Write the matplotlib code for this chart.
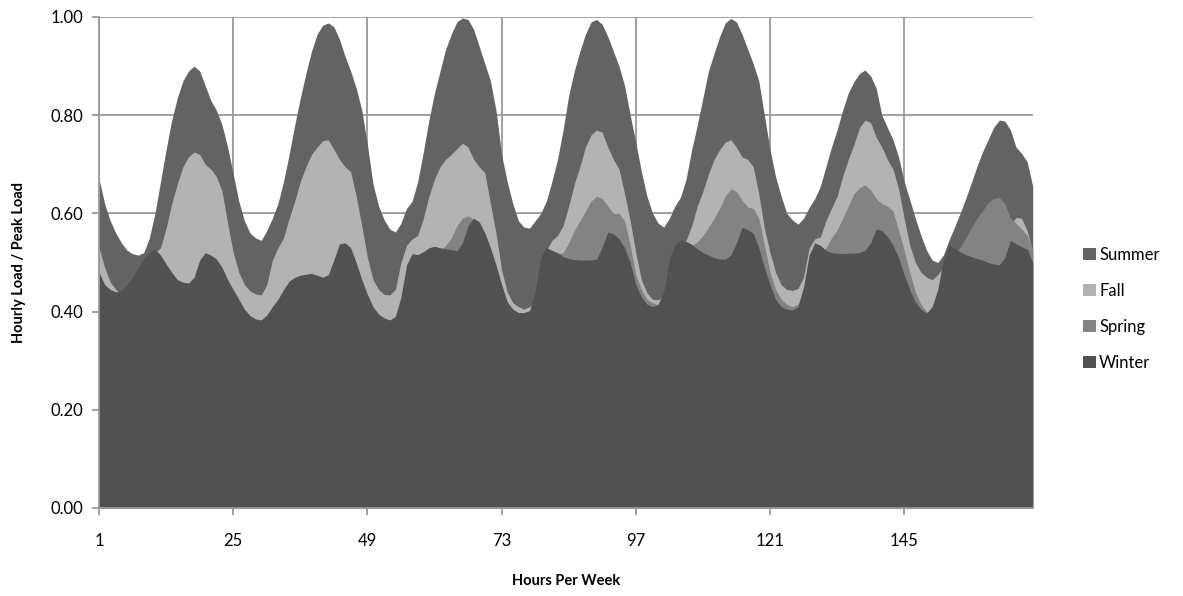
import numpy as np
import matplotlib
matplotlib.use("Agg")
import matplotlib.pyplot as plt
from matplotlib.patches import Patch

plt.rcParams['font.family'] = ['Lato', 'DejaVu Sans']

hours = np.arange(1, 169)

summer = [
    0.67, 0.62, 0.585, 0.56, 0.54, 0.525, 0.518, 0.515, 0.52, 0.55, 0.60, 0.665,
    0.73, 0.79, 0.835, 0.87, 0.89, 0.90, 0.89, 0.86, 0.83, 0.81, 0.78, 0.735,
    0.68, 0.625, 0.585, 0.56, 0.55, 0.545, 0.565, 0.59, 0.62, 0.665, 0.72, 0.78,
    0.835, 0.885, 0.93, 0.965, 0.983, 0.988, 0.98, 0.955, 0.92, 0.89, 0.855, 0.81,
    0.74, 0.66, 0.615, 0.587, 0.568, 0.562, 0.58, 0.61, 0.625, 0.665, 0.725, 0.79,
    0.845, 0.89, 0.935, 0.965, 0.99, 0.998, 0.995, 0.975, 0.94, 0.905, 0.87, 0.81,
    0.72, 0.665, 0.62, 0.585, 0.572, 0.57, 0.585, 0.60, 0.625, 0.665, 0.71, 0.77,
    0.84, 0.89, 0.93, 0.965, 0.99, 0.995, 0.985, 0.96, 0.93, 0.90, 0.86, 0.80,
    0.745, 0.685, 0.635, 0.60, 0.58, 0.572, 0.59, 0.615, 0.633, 0.67, 0.73, 0.78,
    0.835, 0.89, 0.926, 0.96, 0.988, 0.997, 0.99, 0.965, 0.935, 0.905, 0.87, 0.80,
    0.73, 0.675, 0.635, 0.60, 0.587, 0.578, 0.59, 0.612, 0.63, 0.655, 0.695, 0.735,
    0.77, 0.81, 0.845, 0.868, 0.885, 0.892, 0.88, 0.855, 0.80, 0.775, 0.75, 0.715,
    0.665, 0.628, 0.59, 0.555, 0.525, 0.505, 0.50, 0.515, 0.545, 0.572, 0.60, 0.63,
    0.662, 0.695, 0.725, 0.75, 0.775, 0.79, 0.788, 0.77, 0.735, 0.722, 0.705, 0.655,
]

fall = [
    0.53, 0.49, 0.46, 0.445, 0.435, 0.44, 0.45, 0.47, 0.49, 0.505, 0.52, 0.53,
    0.57, 0.62, 0.66, 0.695, 0.715, 0.725, 0.72, 0.70, 0.69, 0.675, 0.645, 0.58,
    0.52, 0.48, 0.455, 0.442, 0.436, 0.434, 0.455, 0.505, 0.53, 0.55, 0.59, 0.625,
    0.665, 0.695, 0.72, 0.735, 0.748, 0.75, 0.73, 0.71, 0.695, 0.685, 0.635, 0.575,
    0.51, 0.465, 0.445, 0.435, 0.434, 0.445, 0.50, 0.535, 0.548, 0.555, 0.59, 0.635,
    0.67, 0.695, 0.71, 0.72, 0.732, 0.743, 0.735, 0.71, 0.695, 0.683, 0.62, 0.56,
    0.485, 0.44, 0.418, 0.41, 0.405, 0.41, 0.42, 0.50, 0.525, 0.545, 0.555, 0.575,
    0.615, 0.66, 0.695, 0.735, 0.76, 0.77, 0.765, 0.735, 0.71, 0.69, 0.64, 0.585,
    0.52, 0.465, 0.438, 0.425, 0.424, 0.43, 0.49, 0.53, 0.54, 0.545, 0.575, 0.615,
    0.645, 0.68, 0.71, 0.73, 0.745, 0.75, 0.735, 0.715, 0.71, 0.695, 0.64, 0.57,
    0.52, 0.48, 0.455, 0.445, 0.443, 0.447, 0.47, 0.53, 0.548, 0.552, 0.585, 0.61,
    0.635, 0.675, 0.71, 0.74, 0.775, 0.79, 0.785, 0.755, 0.735, 0.71, 0.69, 0.65,
    0.59, 0.535, 0.50, 0.48, 0.47, 0.465, 0.475, 0.49, 0.50, 0.51, 0.52, 0.54,
    0.565, 0.585, 0.60, 0.61, 0.615, 0.615, 0.60, 0.575, 0.592, 0.59, 0.565, 0.52,
]

spring = [
    0.47, 0.45, 0.44, 0.435, 0.435, 0.445, 0.46, 0.475, 0.49, 0.50, 0.505, 0.50,
    0.485, 0.47, 0.455, 0.45, 0.45, 0.46, 0.48, 0.49, 0.49, 0.485, 0.47, 0.45,
    0.43, 0.41, 0.395, 0.385, 0.378, 0.376, 0.385, 0.40, 0.415, 0.43, 0.445, 0.455,
    0.46, 0.462, 0.465, 0.462, 0.46, 0.462, 0.48, 0.51, 0.52, 0.51, 0.485, 0.455,
    0.425, 0.40, 0.388, 0.38, 0.376, 0.382, 0.42, 0.48, 0.50, 0.505, 0.51, 0.515,
    0.52, 0.522, 0.535, 0.55, 0.575, 0.59, 0.595, 0.588, 0.575, 0.56, 0.53, 0.49,
    0.45, 0.415, 0.40, 0.393, 0.392, 0.396, 0.43, 0.49, 0.515, 0.518, 0.518, 0.52,
    0.54, 0.565, 0.585, 0.605, 0.625, 0.635, 0.63, 0.615, 0.60, 0.60, 0.585, 0.535,
    0.475, 0.445, 0.425, 0.418, 0.414, 0.42, 0.48, 0.515, 0.525, 0.53, 0.535, 0.542,
    0.555, 0.572, 0.59, 0.61, 0.635, 0.65, 0.645, 0.627, 0.613, 0.61, 0.59, 0.535,
    0.48, 0.445, 0.425, 0.415, 0.41, 0.415, 0.44, 0.49, 0.51, 0.52, 0.53, 0.55,
    0.566, 0.59, 0.615, 0.64, 0.652, 0.658, 0.648, 0.63, 0.62, 0.615, 0.605, 0.565,
    0.525, 0.48, 0.44, 0.415, 0.40, 0.398, 0.43, 0.49, 0.515, 0.52, 0.53, 0.55,
    0.57, 0.59, 0.605, 0.622, 0.63, 0.633, 0.62, 0.59, 0.58, 0.568, 0.555, 0.525,
]

winter = [
    0.48, 0.455, 0.445, 0.44, 0.442, 0.455, 0.47, 0.49, 0.508, 0.52, 0.527, 0.515,
    0.497, 0.48, 0.465, 0.46, 0.458, 0.47, 0.505, 0.52, 0.515, 0.507, 0.49, 0.465,
    0.445, 0.425, 0.405, 0.392, 0.385, 0.383, 0.393, 0.41, 0.425, 0.445, 0.462, 0.47,
    0.474, 0.476, 0.478, 0.474, 0.47, 0.475, 0.505, 0.538, 0.54, 0.53, 0.50, 0.465,
    0.435, 0.41, 0.395, 0.387, 0.383, 0.39, 0.43, 0.495, 0.518, 0.516, 0.522, 0.53,
    0.533, 0.53, 0.528, 0.526, 0.524, 0.54, 0.575, 0.59, 0.583, 0.56, 0.53, 0.495,
    0.455, 0.42, 0.405, 0.398, 0.398, 0.402, 0.44, 0.51, 0.53, 0.525, 0.52, 0.512,
    0.508, 0.506, 0.505, 0.505, 0.505, 0.507, 0.532, 0.562, 0.558, 0.548, 0.53, 0.50,
    0.455, 0.43, 0.415, 0.41, 0.415, 0.44, 0.505, 0.535, 0.547, 0.543, 0.537, 0.528,
    0.52, 0.515, 0.51, 0.507, 0.507, 0.515, 0.54, 0.572, 0.567, 0.56, 0.53, 0.49,
    0.455, 0.425, 0.41, 0.405, 0.403, 0.41, 0.45, 0.515, 0.54, 0.535, 0.525, 0.52,
    0.519, 0.518, 0.519, 0.519, 0.52, 0.525, 0.54, 0.568, 0.565, 0.553, 0.535, 0.51,
    0.475, 0.445, 0.42, 0.405, 0.397, 0.41, 0.445, 0.505, 0.535, 0.53, 0.522, 0.516,
    0.512, 0.508, 0.505, 0.50, 0.497, 0.495, 0.51, 0.545, 0.538, 0.532, 0.527, 0.50,
]

series = [("Summer", summer, "#636363"),
          ("Fall", fall, "#b3b3b3"),
          ("Spring", spring, "#838383"),
          ("Winter", winter, "#515151")]

fig = plt.figure(figsize=(11.83, 5.96), dpi=100)
ax = fig.add_axes([0.0837, 0.1477, 0.7893, 0.8238])

# back to front: Summer, Fall, Spring, Winter
for name, vals, col in series:
    ax.fill_between(hours, 0, vals, color=col, linewidth=0, zorder=2)

ax.set_xlim(1, 168)
ax.set_ylim(0, 1.0)
ax.set_xticks([1, 25, 49, 73, 97, 121, 145])
ax.set_yticks(np.arange(0, 1.01, 0.2))
ax.set_yticklabels([f"{v:.2f}" for v in np.arange(0, 1.01, 0.2)])
ax.grid(True, color="#999999", linewidth=1.3)
ax.set_axisbelow(True)

for s in ["top", "right"]:
    ax.spines[s].set_visible(False)
for s in ["left", "bottom"]:
    ax.spines[s].set_color("#999999")
    ax.spines[s].set_linewidth(1.3)
ax.tick_params(axis="both", colors="#999999", length=5, width=1.3,
               labelsize=12, labelcolor="black")
ax.tick_params(axis="x", pad=13)
ax.tick_params(axis="y", pad=6)

ax.set_xlabel("Hours Per Week", fontsize=10.5, fontweight="bold", labelpad=18)
ax.set_ylabel("Hourly Load / Peak Load", fontsize=10.5, fontweight="bold", labelpad=18)

handles = [Patch(facecolor=col, edgecolor="none", label=name) for name, _, col in series]
fig.legend(handles=handles, loc="center left", bbox_to_anchor=(0.903, 0.482),
           frameon=False, fontsize=12, handlelength=0.75, handleheight=0.75,
           handletextpad=0.2, labelspacing=1.2)

fig.savefig("out.png", dpi=100)
